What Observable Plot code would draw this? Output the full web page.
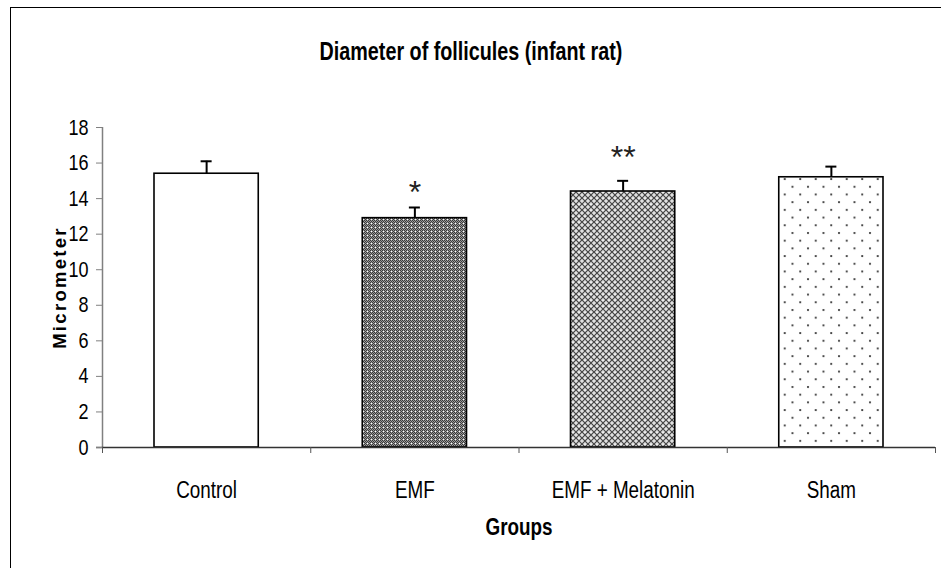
<!DOCTYPE html>
<html>
<head>
<meta charset="utf-8">
<script src="https://cdn.jsdelivr.net/npm/d3@7"></script>
<script src="https://cdn.jsdelivr.net/npm/@observablehq/plot@0.6"></script>
<style>
  html, body { margin: 0; padding: 0; background: #fff; }
  #wrap { position: relative; width: 941px; height: 568px; overflow: hidden; }
  #border { position: absolute; left: 10px; top: 7px; width: 960px; height: 600px; border-left: 1.5px solid #000; border-top: 1.5px solid #000; box-sizing: border-box; }
  #chart { position: absolute; left: 0; top: 0; }
  .ylabel text { letter-spacing: 2.3px; }
</style>
</head>
<body>
<div id="wrap"><div id="border"></div><div id="chart"></div></div>
<script>
const categories = ["Control", "EMF", "EMF + Melatonin", "Sham"];
const means = [15.4, 12.9, 14.4, 15.2];
const errors = [0.7, 0.6, 0.6, 0.6];
const significance = ["", "*", "**", ""];
const significanceY = [null, 13.77, 15.72, null];
const fills = ["#fff", "url(#pEMF)", "url(#pMel)", "url(#pSham)"];
const yTicks = [0, 2, 4, 6, 8, 10, 12, 14, 16, 18];

const data = categories.map((c, i) => ({
  cat: c, i, x1: i, x2: i + 1, xc: i + 0.5,
  mean: means[i], hi: means[i] + errors[i],
  sig: significance[i], sigY: significanceY[i], fill: fills[i]
}));

const FONT = "'Liberation Sans', Arial, sans-serif";

const chart = Plot.plot({
  width: 941,
  height: 568,
  marginTop: 127,
  marginBottom: 121,
  marginLeft: 102,
  marginRight: 6,
  style: { fontFamily: FONT, fontSize: "22px", color: "#000", background: "transparent" },
  x: { type: "linear", domain: [0, 4] },
  y: { domain: [0, 18] },
  marks: [
    Plot.rectY(data, { x1: "x1", x2: "x2", y: "mean", fill: "fill", stroke: "#000", strokeWidth: 1.6, insetLeft: 52, insetRight: 52 }),
    Plot.ruleX(data, { x: "xc", y1: "mean", y2: "hi", stroke: "#000", strokeWidth: 2 }),
    Plot.ruleY(data, { y: "hi", x1: "xc", x2: "xc", insetLeft: -5.5, insetRight: -5.5, stroke: "#000", strokeWidth: 2 }),
    Plot.text(data.filter(d => d.sig), { x: "xc", y: "sigY", text: "sig", lineAnchor: "bottom", fontSize: 32, fill: "#222", className: "wide" }),
    Plot.ruleX([0], { y1: 0, y2: 18, stroke: "#808080", strokeWidth: 1.5 }),
    Plot.ruleY([0], { x1: 0, x2: 4, stroke: "#333", strokeWidth: 1.5, insetLeft: -6 }),
    Plot.axisY({ ticks: yTicks, tickSize: 6, tickPadding: 8, stroke: "#808080", label: null, fontSize: 22 }),
    Plot.axisX({ ticks: [0, 1, 2, 3, 4], tickSize: 6, tickFormat: () => "", stroke: "#555", label: null }),
    Plot.axisX({ ticks: [0.5, 1.5, 2.5, 3.5], tickSize: 0, tickPadding: 34, tickFormat: v => categories[Math.floor(v)], label: null, fontSize: 23 }),
    Plot.text(["Groups"], { frameAnchor: "bottom", dy: 87, fontWeight: "bold", fontSize: 23 }),
    Plot.text(["Micrometer"], { frameAnchor: "left", textAnchor: "middle", dx: -42, dy: 0, rotate: -90, fontWeight: "bold", fontSize: 18.5, className: "ylabel" }),
    Plot.text(["Diameter of follicules (infant rat)"], { frameAnchor: "top", dx: -48, dy: -86, fontWeight: "bold", fontSize: 26, className: "title" })
  ]
});

// condense text horizontally (narrow face, as in the reference)
chart.querySelectorAll("text").forEach(t => {
  if (t.closest(".wide") || t.closest(".ylabel")) return;
  const k = t.closest(".title") ? 0.76 : 0.82;
  const tr = t.getAttribute("transform") || "";
  t.setAttribute("transform", (tr + ` scale(${k},1)`).trim());
});

// pattern definitions for the bar fills
const ns = "http://www.w3.org/2000/svg";
const defs = document.createElementNS(ns, "defs");
defs.innerHTML = `
  <pattern id="pEMF" width="4" height="4" patternUnits="userSpaceOnUse">
    <rect width="4" height="4" fill="#9a9a9a"/>
    <rect x="0" y="0" width="1" height="1" fill="#3a3a3a"/>
    <rect x="2" y="0" width="1" height="1" fill="#3a3a3a"/>
    <rect x="1" y="1" width="1" height="1" fill="#3a3a3a"/>
    <rect x="3" y="1" width="1" height="1" fill="#3a3a3a"/>
    <rect x="0" y="2" width="1" height="1" fill="#3a3a3a"/>
    <rect x="2" y="2" width="1" height="1" fill="#3a3a3a"/>
    <rect x="1" y="3" width="1" height="1" fill="#3a3a3a"/>
    <rect x="3" y="3" width="1" height="1" fill="#ffffff"/>
  </pattern>
  <pattern id="pMel" width="6" height="6" patternUnits="userSpaceOnUse">
    <rect width="6" height="6" fill="#e0e0e0"/>
    <path d="M0,0 L6,6 M6,0 L0,6" stroke="#444" stroke-width="1.2"/>
    <rect x="2.5" y="0" width="1" height="1" fill="#fff"/>
  </pattern>
  <pattern id="pSham" width="15.5" height="15.4" patternUnits="userSpaceOnUse">
    <rect width="15.5" height="15.4" fill="#fff"/>
    <circle cx="2" cy="2" r="1.1" fill="#333"/>
    <circle cx="9.75" cy="9.7" r="1.1" fill="#333"/>
  </pattern>`;
chart.insertBefore(defs, chart.firstChild);
document.getElementById("chart").appendChild(chart);
</script>
</body>
</html>
